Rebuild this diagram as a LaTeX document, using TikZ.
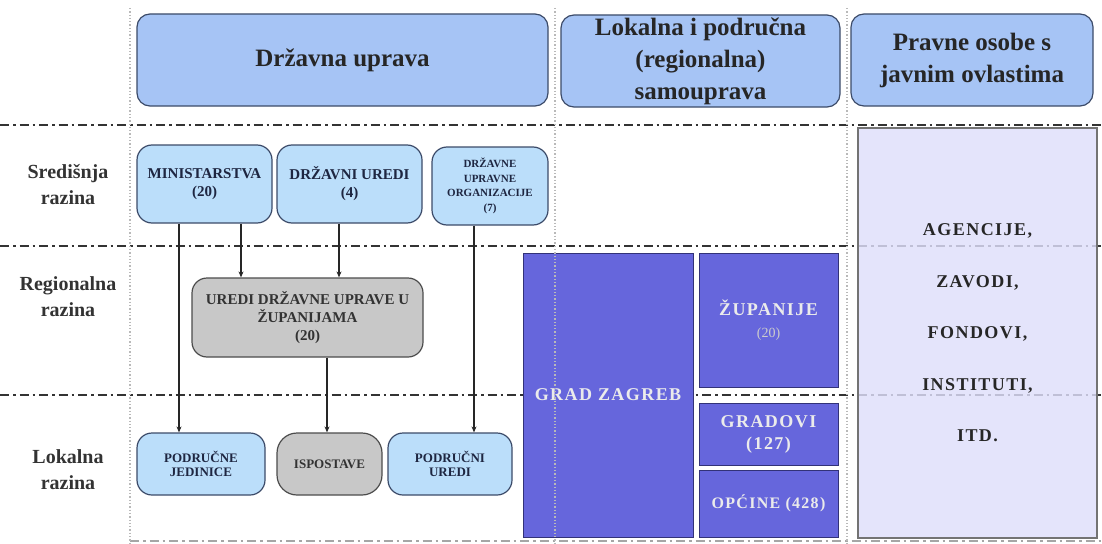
\documentclass[tikz,border=0pt]{standalone}
\usepackage{fontspec}
\setmainfont{Liberation Serif}
\newfontfamily\widefont[LetterSpace=8]{Liberation Serif}
\usetikzlibrary{arrows.meta}
\definecolor{headfill}{RGB}{166,196,245}
\definecolor{headline}{RGB}{60,75,105}
\definecolor{boxfill}{RGB}{187,222,250}
\definecolor{greyfill}{RGB}{200,200,200}
\definecolor{jlsfill}{RGB}{102,102,220}
\definecolor{jlsline}{RGB}{50,50,120}
\definecolor{pravfill}{RGB}{222,222,250}
\definecolor{textnavy}{RGB}{30,38,65}
\begin{document}
\begin{tikzpicture}[x=1pt,y=-1pt,
  head/.style={draw=headline, fill=headfill, line width=1.2pt, rounded corners=13pt, inner sep=0pt, align=center, text=black!85, font=\fontsize{25}{32}\selectfont\bfseries},
  unit/.style={draw=headline, fill=boxfill, line width=1.2pt, rounded corners=15pt, inner sep=0pt, align=center, text=textnavy, font=\fontsize{15}{18}\selectfont\bfseries},
  greyunit/.style={unit, fill=greyfill, draw=black!70, text=black!80},
  jls/.style={draw=jlsline, fill=jlsfill, line width=1pt, inner sep=0pt, align=center, text=black!8, font=\widefont\fontsize{18}{22}\selectfont\bfseries},
  levelname/.style={align=center, text=black!80, font=\fontsize{20}{26}\selectfont\bfseries},
  levelline/.style={line width=2.2pt, black!80, dash pattern=on 9pt off 4pt on 2.5pt off 4pt},
  colline/.style={line width=1.3pt, gray!55, dotted},
  arr/.style={line width=1.6pt, black!85, -{Stealth[length=6pt,width=5pt]}}]
\useasboundingbox (0,0) rectangle (1102,543);
\draw[levelline] (0,125) -- (1102,125);
\draw[levelline] (0,246) -- (1102,246);
\draw[levelline] (0,395) -- (1102,395);
\draw[levelline, black!35] (130,541) -- (1102,541);
\node[head, minimum width=411pt, minimum height=92pt] (drz) at (342.5,60) {Državna uprava};
\node[head, minimum width=279pt, minimum height=92pt] (lok) at (700.5,61) {Lokalna i područna\\(regionalna)\\samouprava};
\node[head, minimum width=242pt, minimum height=92pt] (prav) at (972,60) {Pravne osobe s\\javnim ovlastima};
\node[levelname] (sred) at (68,185) {Središnja\\razina};
\node[levelname] (reg) at (68,297) {Regionalna\\razina};
\node[levelname] (lokr) at (68,470) {Lokalna\\razina};
\node[unit, minimum width=135pt, minimum height=78pt] (min) at (204.5,184) {MINISTARSTVA\\(20)};
\node[unit, minimum width=145pt, minimum height=78pt] (du) at (349.5,184) {DRŽAVNI UREDI\\(4)};
\node[unit, minimum width=116pt, minimum height=78pt, font=\fontsize{11}{14.5}\selectfont\bfseries] (duo) at (490,186) {DRŽAVNE\\UPRAVNE\\ORGANIZACIJE\\(7)};
\node[greyunit, minimum width=231pt, minimum height=79pt] (ured) at (307.5,317.5) {UREDI DRŽAVNE UPRAVE U\\ŽUPANIJAMA\\(20)};
\node[unit, minimum width=128pt, minimum height=62pt, font=\fontsize{13}{14.5}\selectfont\bfseries] (pj) at (201,464) {PODRUČNE\\JEDINICE};
\node[greyunit, minimum width=105pt, minimum height=62pt, rounded corners=20pt, font=\fontsize{13}{14.5}\selectfont\bfseries] (isp) at (329.5,464) {ISPOSTAVE};
\node[unit, minimum width=124pt, minimum height=62pt, font=\fontsize{13}{14.5}\selectfont\bfseries] (pu) at (450,464) {PODRUČNI\\UREDI};
\draw[arr] ([xshift=-25.5pt]min.south) -- ([xshift=-25.5pt]min.south |- pj.north);
\draw[arr] ([xshift=36.5pt]min.south) -- ([xshift=36.5pt]min.south |- ured.north);
\draw[arr] ([xshift=-10.5pt]du.south) -- ([xshift=-10.5pt]du.south |- ured.north);
\draw[arr] ([xshift=-16pt]duo.south) -- ([xshift=-16pt]duo.south |- pu.north);
\draw[arr] ([xshift=19.5pt]ured.south) -- ([xshift=19.5pt]ured.south |- isp.north);
\node[jls, minimum width=170pt, minimum height=284pt] (gz) at (608,395) {GRAD ZAGREB};
\node[jls, minimum width=139pt, minimum height=134pt] (zup) at (768.5,320) {ŽUPANIJE\\{\normalfont\fontsize{14}{18}\selectfont\color{black!20}(20)}};
\node[jls, minimum width=139pt, minimum height=62pt] (grd) at (768.5,434) {GRADOVI\\(127)};
\node[jls, minimum width=139pt, minimum height=67pt, font=\widefont\fontsize{16}{20}\selectfont\bfseries] (opc) at (768.5,503.5) {OPĆINE (428)};
\node[draw=black!55, line width=1.2pt, fill=pravfill, fill opacity=0.82, text opacity=1, minimum width=239pt, minimum height=410pt, inner sep=0pt, align=center, text=black!85, font=\widefont\fontsize{18}{51.5}\selectfont\bfseries] (ag) at (977.5,333) {AGENCIJE,\\ZAVODI,\\FONDOVI,\\INSTITUTI,\\ITD.};
\draw[colline] (130,8) -- (130,543);
\draw[colline] (555,8) -- (555,543);
\draw[colline] (847,8) -- (847,543);
\end{tikzpicture}
\end{document}
